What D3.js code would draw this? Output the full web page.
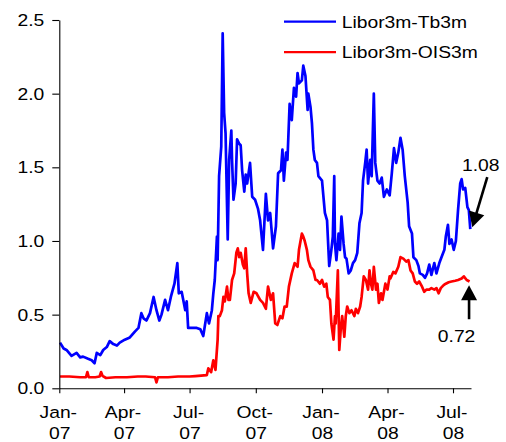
<!DOCTYPE html>
<html>
<head>
<meta charset="utf-8">
<script src="https://cdn.jsdelivr.net/npm/d3@7"></script>
<style>
  body { margin: 0; background: #fff; }
  svg { display: block; font-family: "Liberation Sans", Arial, sans-serif; }
</style>
</head>
<body>
<svg width="506" height="442"></svg>
<script>
// spread series, percentage points
const seriesNames = ["Libor3m-Tb3m", "Libor3m-OIS3m"];
const seriesColors = ["#0000ff", "#ff0000"];

const tb3m = [
    ["2007-01-02", 0.31], ["2007-01-07", 0.27], ["2007-01-11", 0.26], ["2007-01-18", 0.22],
    ["2007-01-25", 0.24], ["2007-01-30", 0.21], ["2007-02-03", 0.215], ["2007-02-10", 0.20],
    ["2007-02-15", 0.19], ["2007-02-19", 0.17], ["2007-02-22", 0.24], ["2007-02-27", 0.225],
    ["2007-03-03", 0.26], ["2007-03-08", 0.28], ["2007-03-12", 0.32], ["2007-03-17", 0.30],
    ["2007-03-22", 0.29], ["2007-03-26", 0.31], ["2007-04-02", 0.33], ["2007-04-09", 0.345],
    ["2007-04-16", 0.385], ["2007-04-21", 0.41], ["2007-04-25", 0.51], ["2007-04-28", 0.475],
    ["2007-05-02", 0.46], ["2007-05-07", 0.51], ["2007-05-12", 0.62], ["2007-05-16", 0.53],
    ["2007-05-20", 0.46], ["2007-05-23", 0.50], ["2007-05-28", 0.60], ["2007-06-01", 0.53],
    ["2007-06-05", 0.62], ["2007-06-10", 0.71], ["2007-06-14", 0.85], ["2007-06-16", 0.645],
    ["2007-06-20", 0.655], ["2007-06-25", 0.53], ["2007-06-27", 0.59], ["2007-06-29", 0.41],
    ["2007-07-06", 0.41], ["2007-07-11", 0.41], ["2007-07-16", 0.40], ["2007-07-20", 0.355],
    ["2007-07-25", 0.51], ["2007-07-28", 0.44], ["2007-08-01", 0.53], ["2007-08-03", 0.645],
    ["2007-08-05", 0.735], ["2007-08-08", 1.03], ["2007-08-09", 0.87], ["2007-08-11", 1.44],
    ["2007-08-14", 1.64], ["2007-08-16", 2.41], ["2007-08-18", 1.87], ["2007-08-20", 1.73],
    ["2007-08-23", 1.01], ["2007-08-25", 1.55], ["2007-08-28", 1.75], ["2007-08-29", 1.55],
    ["2007-08-31", 1.28], ["2007-09-03", 1.39], ["2007-09-05", 1.69], ["2007-09-08", 1.66],
    ["2007-09-10", 1.65], ["2007-09-12", 1.48], ["2007-09-15", 1.335], ["2007-09-17", 1.45],
    ["2007-09-19", 1.39], ["2007-09-23", 1.53], ["2007-09-26", 1.30], ["2007-09-30", 1.28],
    ["2007-10-04", 1.22], ["2007-10-07", 1.14], ["2007-10-11", 0.94], ["2007-10-15", 1.32],
    ["2007-10-18", 1.14], ["2007-10-21", 1.19], ["2007-10-25", 0.95], ["2007-10-29", 1.10],
    ["2007-11-01", 1.46], ["2007-11-05", 1.48], ["2007-11-07", 1.62], ["2007-11-09", 1.41],
    ["2007-11-12", 1.60], ["2007-11-14", 1.55], ["2007-11-17", 1.93], ["2007-11-20", 1.82],
    ["2007-11-23", 2.04], ["2007-11-26", 1.98], ["2007-11-28", 2.14], ["2007-11-30", 2.07],
    ["2007-12-04", 2.09], ["2007-12-06", 2.19], ["2007-12-09", 2.12], ["2007-12-12", 1.89],
    ["2007-12-13", 2.00], ["2007-12-16", 1.91], ["2007-12-18", 1.80], ["2007-12-20", 1.62],
    ["2007-12-22", 1.55], ["2007-12-25", 1.53], ["2007-12-27", 1.44], ["2008-01-01", 1.41],
    ["2008-01-03", 1.30], ["2008-01-05", 1.19], ["2008-01-08", 1.14], ["2008-01-11", 0.83],
    ["2008-01-14", 0.94], ["2008-01-16", 1.03], ["2008-01-18", 1.44], ["2008-01-19", 0.98],
    ["2008-01-21", 0.87], ["2008-01-24", 1.05], ["2008-01-26", 0.94], ["2008-01-28", 1.165],
    ["2008-01-31", 0.98], ["2008-02-02", 0.89], ["2008-02-04", 0.88], ["2008-02-07", 0.78],
    ["2008-02-10", 0.80], ["2008-02-13", 0.85], ["2008-02-16", 0.87], ["2008-02-19", 0.92],
    ["2008-02-22", 1.12], ["2008-02-25", 1.19], ["2008-02-27", 1.41], ["2008-03-01", 1.53],
    ["2008-03-03", 1.62], ["2008-03-05", 1.39], ["2008-03-08", 1.55], ["2008-03-10", 1.44],
    ["2008-03-13", 2.00], ["2008-03-15", 1.53], ["2008-03-18", 1.41], ["2008-03-21", 1.39],
    ["2008-03-24", 1.43], ["2008-03-27", 1.30], ["2008-03-31", 1.35], ["2008-04-04", 1.31],
    ["2008-04-07", 1.46], ["2008-04-10", 1.63], ["2008-04-13", 1.53], ["2008-04-16", 1.60],
    ["2008-04-19", 1.70], ["2008-04-22", 1.62], ["2008-04-25", 1.44], ["2008-04-29", 1.26],
    ["2008-05-01", 1.10], ["2008-05-05", 1.05], ["2008-05-07", 0.89], ["2008-05-11", 0.87],
    ["2008-05-14", 0.83], ["2008-05-16", 0.78], ["2008-05-20", 0.77], ["2008-05-23", 0.75],
    ["2008-05-26", 0.78], ["2008-05-29", 0.84], ["2008-06-01", 0.77], ["2008-06-05", 0.85],
    ["2008-06-08", 0.78], ["2008-06-12", 0.85], ["2008-06-15", 0.89], ["2008-06-19", 0.94],
    ["2008-06-21", 1.03], ["2008-06-24", 1.11], ["2008-06-26", 0.98], ["2008-06-29", 1.01],
    ["2008-07-02", 0.94], ["2008-07-05", 1.00], ["2008-07-08", 1.21], ["2008-07-11", 1.39],
    ["2008-07-13", 1.42], ["2008-07-15", 1.35], ["2008-07-18", 1.36], ["2008-07-21", 1.23],
    ["2008-07-23", 1.21], ["2008-07-25", 1.08]
];

const ois3m = [
    ["2007-01-02", 0.08], ["2007-01-15", 0.08], ["2007-01-30", 0.075], ["2007-02-07", 0.075],
    ["2007-02-09", 0.11], ["2007-02-11", 0.075], ["2007-02-20", 0.075], ["2007-02-26", 0.08],
    ["2007-02-28", 0.11], ["2007-03-02", 0.085], ["2007-03-07", 0.07], ["2007-03-20", 0.075],
    ["2007-04-05", 0.075], ["2007-04-20", 0.08], ["2007-05-01", 0.08], ["2007-05-14", 0.075],
    ["2007-05-16", 0.04], ["2007-05-18", 0.075], ["2007-06-01", 0.075], ["2007-06-15", 0.08],
    ["2007-07-01", 0.08], ["2007-07-09", 0.083], ["2007-07-25", 0.09], ["2007-07-27", 0.135],
    ["2007-07-31", 0.11], ["2007-08-03", 0.19], ["2007-08-06", 0.125], ["2007-08-09", 0.33],
    ["2007-08-10", 0.49], ["2007-08-12", 0.49], ["2007-08-15", 0.53], ["2007-08-17", 0.62],
    ["2007-08-19", 0.59], ["2007-08-22", 0.69], ["2007-08-24", 0.60], ["2007-08-26", 0.60],
    ["2007-08-29", 0.735], ["2007-09-01", 0.78], ["2007-09-04", 0.92], ["2007-09-06", 0.95],
    ["2007-09-08", 0.89], ["2007-09-10", 0.92], ["2007-09-13", 0.84], ["2007-09-15", 0.815],
    ["2007-09-17", 0.95], ["2007-09-19", 0.78], ["2007-09-21", 0.645], ["2007-09-24", 0.58],
    ["2007-09-28", 0.655], ["2007-10-02", 0.645], ["2007-10-07", 0.60], ["2007-10-11", 0.58],
    ["2007-10-15", 0.54], ["2007-10-18", 0.69], ["2007-10-22", 0.60], ["2007-10-25", 0.645],
    ["2007-10-28", 0.44], ["2007-10-31", 0.43], ["2007-11-04", 0.49], ["2007-11-07", 0.475],
    ["2007-11-10", 0.555], ["2007-11-13", 0.555], ["2007-11-16", 0.69], ["2007-11-20", 0.78],
    ["2007-11-24", 0.85], ["2007-11-28", 0.825], ["2007-11-30", 0.94], ["2007-12-04", 1.05],
    ["2007-12-06", 1.03], ["2007-12-08", 1.00], ["2007-12-11", 0.94], ["2007-12-13", 0.87],
    ["2007-12-16", 0.825], ["2007-12-20", 0.80], ["2007-12-23", 0.735], ["2007-12-25", 0.735],
    ["2007-12-29", 0.71], ["2008-01-01", 0.735], ["2008-01-04", 0.69], ["2008-01-07", 0.71],
    ["2008-01-09", 0.62], ["2008-01-12", 0.60], ["2008-01-14", 0.44], ["2008-01-17", 0.33],
    ["2008-01-19", 0.49], ["2008-01-20", 0.44], ["2008-01-23", 0.80], ["2008-01-25", 0.26],
    ["2008-01-27", 0.40], ["2008-01-29", 0.49], ["2008-02-01", 0.35], ["2008-02-03", 0.49],
    ["2008-02-05", 0.555], ["2008-02-08", 0.51], ["2008-02-11", 0.53], ["2008-02-15", 0.49],
    ["2008-02-17", 0.54], ["2008-02-20", 0.51], ["2008-02-23", 0.555], ["2008-02-25", 0.62],
    ["2008-02-28", 0.76], ["2008-03-02", 0.735], ["2008-03-05", 0.67], ["2008-03-07", 0.80],
    ["2008-03-09", 0.71], ["2008-03-11", 0.67], ["2008-03-13", 0.825], ["2008-03-16", 0.67],
    ["2008-03-18", 0.71], ["2008-03-20", 0.58], ["2008-03-23", 0.645], ["2008-03-25", 0.60],
    ["2008-03-29", 0.71], ["2008-04-01", 0.67], ["2008-04-04", 0.76], ["2008-04-05", 0.745],
    ["2008-04-09", 0.79], ["2008-04-12", 0.78], ["2008-04-16", 0.825], ["2008-04-19", 0.89],
    ["2008-04-23", 0.88], ["2008-04-27", 0.86], ["2008-04-30", 0.87], ["2008-05-03", 0.80],
    ["2008-05-06", 0.78], ["2008-05-09", 0.725], ["2008-05-12", 0.71], ["2008-05-15", 0.725],
    ["2008-05-19", 0.69], ["2008-05-22", 0.655], ["2008-05-25", 0.67], ["2008-05-29", 0.67],
    ["2008-06-01", 0.68], ["2008-06-05", 0.67], ["2008-06-08", 0.68], ["2008-06-11", 0.645],
    ["2008-06-14", 0.68], ["2008-06-18", 0.70], ["2008-06-21", 0.71], ["2008-06-25", 0.72],
    ["2008-06-29", 0.725], ["2008-07-04", 0.73], ["2008-07-08", 0.735], ["2008-07-13", 0.745],
    ["2008-07-16", 0.76], ["2008-07-20", 0.735], ["2008-07-24", 0.725]
];

const yTicks = [0, 0.5, 1, 1.5, 2, 2.5];
const xTicks = ["2007-01-01", "2007-04-01", "2007-07-01", "2007-10-01", "2008-01-01", "2008-04-01", "2008-07-01"];
const xDomain = ["2007-01-01", "2008-07-26"];
const endLabels = [1.08, 0.72];

const parse = d3.timeParse("%Y-%m-%d");
const fontSize = 16.5;
const stretch = 1.17; // the original glyphs are a little wide

const svg = d3.select("svg");

const x = d3.scaleTime()
    .domain(xDomain.map(parse))
    .range([59.3, 471]);

const y = d3.scaleLinear()
    .domain([0, 2.5])
    .range([388.3, 20]);

// axes
const yAxis = svg.append("g")
    .attr("transform", "translate(59.3,0)")
    .call(d3.axisLeft(y).tickValues(yTicks).tickFormat(d3.format(".1f")).tickSize(7).tickSizeOuter(0));

yAxis.selectAll("text")
    .attr("x", null)
    .attr("dy", "0.33em")
    .attr("transform", `translate(-15,0) scale(${stretch},1)`);

const xAxis = svg.append("g")
    .attr("transform", "translate(0,388.3)")
    .call(d3.axisBottom(x).tickValues(xTicks.map(parse)).tickSize(5).tickSizeOuter(0).tickFormat(""));

xAxis.selectAll(".tick text").remove();
xAxis.selectAll(".tick").each(function(d) {
    const t = d3.select(this).append("text")
        .attr("fill", "#000")
        .attr("text-anchor", "middle")
        .attr("transform", `scale(${stretch},1)`);
    t.append("tspan").attr("x", -1.3).attr("y", 29.8).text(d3.timeFormat("%b-")(d));
    t.append("tspan").attr("x", 0).attr("y", 50.3).text(d3.timeFormat("%y")(d));
});

svg.selectAll(".domain, .tick line").attr("stroke", "#000").attr("stroke-width", 1.1);
svg.selectAll("g text").attr("font-size", fontSize).attr("font-family", "Liberation Sans, Arial, sans-serif").attr("fill", "#000");

// lines
const line = d3.line()
    .x(d => x(parse(d[0])))
    .y(d => y(d[1]));

const series = [tb3m, ois3m];

svg.selectAll("path.series")
    .data(series)
    .enter().append("path")
    .attr("class", "series")
    .attr("fill", "none")
    .attr("stroke", (d, i) => seriesColors[i])
    .attr("stroke-width", 2.7)
    .attr("stroke-linejoin", "round")
    .attr("d", line)
    .lower();

// legend
const legend = svg.selectAll("g.legend")
    .data(seriesNames)
    .enter().append("g")
    .attr("class", "legend")
    .attr("transform", (d, i) => `translate(284,${21.7 + i * 30.5})`);

legend.append("line")
    .attr("x1", 0).attr("x2", 52)
    .attr("stroke", (d, i) => seriesColors[i])
    .attr("stroke-width", 2.2);

legend.append("text")
    .attr("transform", `translate(57.7,0) scale(${stretch},1)`)
    .attr("dy", "0.36em")
    .attr("font-size", fontSize)
    .attr("fill", "#000")
    .text(d => d);

// end-value arrows
function arrow(x1, y1, x2, y2) {
    const len = Math.hypot(x2 - x1, y2 - y1);
    const ux = (x2 - x1) / len, uy = (y2 - y1) / len;
    const head = 15, half = 8;
    const bx = x2 - ux * head, by = y2 - uy * head;
    svg.append("line")
        .attr("x1", x1).attr("y1", y1)
        .attr("x2", x2 - ux * (head - 2)).attr("y2", y2 - uy * (head - 2))
        .attr("stroke", "#000").attr("stroke-width", 2.6);
    svg.append("path")
        .attr("d", `M${x2},${y2}L${bx - uy * half},${by + ux * half}L${bx + uy * half},${by - ux * half}Z`)
        .attr("fill", "#000");
}

const lastTb = tb3m[tb3m.length - 1];
const lastOis = ois3m[ois3m.length - 1];

const tbX = x(parse(lastTb[0])), tbY = y(endLabels[0]);
arrow(tbX + 17, tbY - 52, tbX + 2, tbY - 2);
svg.append("text")
    .attr("transform", `translate(${tbX + 10.5},${tbY - 58}) scale(${stretch},1)`)
    .attr("text-anchor", "middle")
    .attr("font-size", fontSize)
    .attr("fill", "#000")
    .text(endLabels[0].toFixed(2));

const oisX = x(parse(lastOis[0])), oisY = y(endLabels[1]);
arrow(oisX - 0.5, oisY + 37, oisX - 0.5, oisY + 3);
svg.append("text")
    .attr("transform", `translate(${oisX - 13},${oisY + 60}) scale(${stretch},1)`)
    .attr("text-anchor", "middle")
    .attr("font-size", fontSize)
    .attr("fill", "#000")
    .text(endLabels[1].toFixed(2));
</script>
</body>
</html>
